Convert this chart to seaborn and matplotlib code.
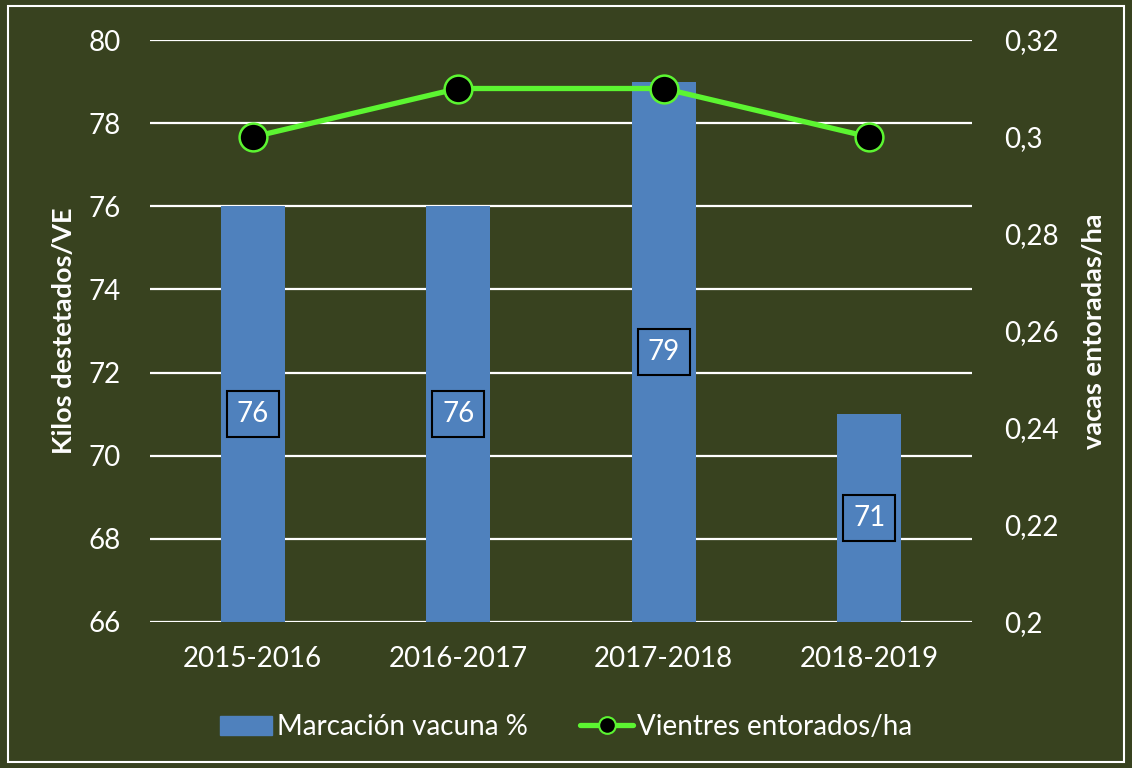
import matplotlib
matplotlib.use("Agg")
import matplotlib.pyplot as plt
import matplotlib.patches as mpatches
from matplotlib.lines import Line2D
import numpy as np
import pandas as pd
import seaborn as sns

# Campaign data
campaigns = ["2015-2016", "2016-2017", "2017-2018", "2018-2019"]
marcacion = [76, 76, 79, 71]            # Marcación vacuna %
vientres_ha = [0.30, 0.31, 0.31, 0.30]  # Vientres entorados/ha

left_ticks = [66, 68, 70, 72, 74, 76, 78, 80]
right_ticks = [0.20, 0.22, 0.24, 0.26, 0.28, 0.30, 0.32]
right_tick_labels = ["0,2", "0,22", "0,24", "0,26", "0,28", "0,3", "0,32"]

BG = "#38421f"
BAR = "#4f81bd"
GREEN = "#5cf531"
WHITE = "white"
FS = 20

sns.set_style("white")
plt.rcParams["font.family"] = ["Lato", "DejaVu Sans"]

df = pd.DataFrame({"campaña": campaigns, "marcacion": marcacion, "vientres": vientres_ha})

fig = plt.figure(figsize=(11.32, 7.68), dpi=100, facecolor=BG)
ax = fig.add_axes([150 / 1132, 1 - 622 / 768, 822 / 1132, 582 / 768])
ax.set_facecolor(BG)

sns.barplot(data=df, x="campaña", y="marcacion", color=BAR, width=0.31,
            saturation=1, linewidth=0, edgecolor="none", ax=ax, zorder=3)
ax.set_xlim(-0.5, len(campaigns) - 0.5)
ax.set_ylim(66, 80)
ax.set_yticks(left_ticks)
ax.yaxis.grid(True, color=WHITE, linewidth=1.6, zorder=0)
ax.set_axisbelow(True)
for s in ax.spines.values():
    s.set_visible(False)
ax.tick_params(axis="both", length=0, labelsize=FS, colors=WHITE)
ax.tick_params(axis="y", pad=21)
ax.tick_params(axis="x", pad=17)
ax.set_xlabel("")
ax.set_ylabel("Kilos destetados/VE", color=WHITE, fontsize=19.5, fontweight="bold", labelpad=9)

# Value labels centered in each bar, with a framed box
for i, v in enumerate(marcacion):
    ax.text(i, (66 + v) / 2, f"{v}", ha="center", va="center", color=WHITE, fontsize=FS,
            zorder=5,
            bbox=dict(boxstyle="square,pad=0.36", facecolor="none", edgecolor="black", linewidth=1.5))

ax2 = ax.twinx()
ax2.plot(range(len(campaigns)), vientres_ha, color=GREEN, linewidth=3.8, marker="o",
         markersize=20, markerfacecolor="black", markeredgecolor=GREEN, markeredgewidth=1.8,
         zorder=4)
ax2.set_ylim(0.20, 0.32)
ax2.set_yticks(right_ticks)
ax2.set_yticklabels(right_tick_labels)
for s in ax2.spines.values():
    s.set_visible(False)
ax2.tick_params(axis="y", length=0, labelsize=FS, colors=WHITE, pad=23)
ax2.set_ylabel("vacas entoradas/ha", color=WHITE, fontsize=19.5, fontweight="bold", labelpad=17)
ax2.grid(False)

handles = [
    mpatches.Patch(color=BAR, label="Marcación vacuna %"),
    Line2D([0], [0], color=GREEN, linewidth=3.8, marker="o", markersize=12,
           markerfacecolor="black", markeredgecolor=GREEN, markeredgewidth=1.5,
           label="Vientres entorados/ha"),
]
leg = fig.legend(handles=handles, loc="center", bbox_to_anchor=(0.5, 1 - 727 / 768), ncol=2,
                 frameon=False, fontsize=FS, handlelength=1.9, handleheight=0.7,
                 handletextpad=0.15, columnspacing=1.9)
for t in leg.get_texts():
    t.set_color(WHITE)

# Outer frame
fig.patches.append(mpatches.Rectangle((8 / 1132, 6 / 768), 1 - 16 / 1132, 1 - 12 / 768,
                                      transform=fig.transFigure, fill=False,
                                      edgecolor=WHITE, linewidth=1.5))

fig.savefig("out.png", dpi=100, facecolor=BG)
